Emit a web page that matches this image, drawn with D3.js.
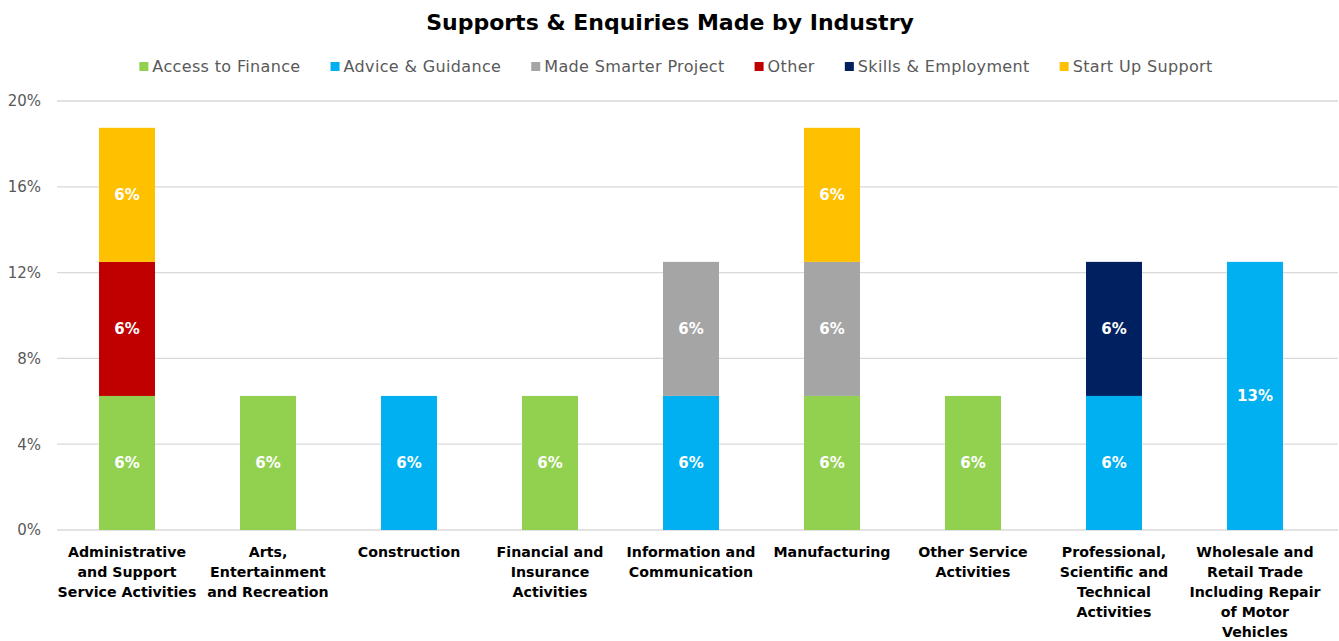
<!DOCTYPE html>
<html>
<head>
<meta charset="utf-8">
<script src="https://d3js.org/d3.v7.min.js"></script>
<style>
  body { margin: 0; background: #fff; }
  text { font-family: "Century Gothic", "DejaVu Sans", sans-serif; }
</style>
</head>
<body>
<div id="chart"></div>
<script>
// data
var categories = [
  "Administrative and Support Service Activities",
  "Arts, Entertainment and Recreation",
  "Construction",
  "Financial and Insurance Activities",
  "Information and Communication",
  "Manufacturing",
  "Other Service Activities",
  "Professional, Scientific and Technical Activities",
  "Wholesale and Retail Trade Including Repair of Motor Vehicles"
];
var tickLines = [
  ["Administrative", "and Support", "Service Activities"],
  ["Arts,", "Entertainment", "and Recreation"],
  ["Construction"],
  ["Financial and", "Insurance", "Activities"],
  ["Information and", "Communication"],
  ["Manufacturing"],
  ["Other Service", "Activities"],
  ["Professional,", "Scientific and", "Technical", "Activities"],
  ["Wholesale and", "Retail Trade", "Including Repair", "of Motor", "Vehicles"]
];
var seriesNames = ["Access to Finance", "Advice & Guidance", "Made Smarter Project", "Other", "Skills & Employment", "Start Up Support"];
var seriesColors = ["#92d050", "#00b0f0", "#a5a5a5", "#c00000", "#002060", "#ffc000"];
var accessToFinance  = [0.0625, 0.0625, 0,      0.0625, 0,      0.0625, 0.0625, 0,      0];
var adviceGuidance   = [0,      0,      0.0625, 0,      0.0625, 0,      0,      0.0625, 0.125];
var madeSmarter      = [0,      0,      0,      0,      0.0625, 0.0625, 0,      0,      0];
var other            = [0.0625, 0,      0,      0,      0,      0,      0,      0,      0];
var skillsEmployment = [0,      0,      0,      0,      0,      0,      0,      0.0625, 0];
var startUpSupport   = [0.0625, 0,      0,      0,      0,      0.0625, 0,      0,      0];
var yTicks = [0, 0.04, 0.08, 0.12, 0.16, 0.20];

var seriesValues = [accessToFinance, adviceGuidance, madeSmarter, other, skillsEmployment, startUpSupport];

var width = 1339, height = 641;
var margin = {top: 101, right: 1, bottom: 111, left: 57};
var w = width - margin.left - margin.right,
    h = height - margin.top - margin.bottom;

var svg = d3.select("#chart").append("svg")
  .attr("width", width).attr("height", height);

var rows = categories.map(function(c, i) {
  var r = {cat: c};
  seriesNames.forEach(function(s, j) { r[s] = seriesValues[j][i]; });
  return r;
});
var stacked = d3.stack().keys(seriesNames)(rows);

var x = d3.scaleBand().domain(categories).range([0, 1268]).paddingInner(0.603).paddingOuter(0.298);
var y = d3.scaleLinear().domain([0, 0.20]).range([h, 0]);
var color = d3.scaleOrdinal().domain(seriesNames).range(seriesColors);

var g = svg.append("g").attr("transform", "translate(" + margin.left + "," + margin.top + ")");

// grid
g.append("g").selectAll("line").data(yTicks).join("line")
  .attr("x1", 0).attr("x2", w)
  .attr("y1", function(d) { return y(d); }).attr("y2", function(d) { return y(d); })
  .attr("stroke", "#d9d9d9").attr("stroke-width", 1.3);

// y axis labels
var yAxis = g.append("g").call(d3.axisLeft(y).tickValues(yTicks).tickFormat(d3.format(".0%")).tickSize(0).tickPadding(16));
yAxis.select(".domain").remove();
yAxis.selectAll("text").attr("font-size", 15).attr("fill", "#595959")
  .style("font-family", "\"Century Gothic\", \"DejaVu Sans\", sans-serif");

// bars
var layers = g.append("g").selectAll("g").data(stacked).join("g")
  .attr("fill", function(d) { return color(d.key); });
layers.selectAll("rect").data(function(d) { return d; }).join("rect")
  .attr("x", function(d) { return x(d.data.cat); })
  .attr("width", x.bandwidth())
  .attr("y", function(d) { return y(d[1]); })
  .attr("height", function(d) { return y(d[0]) - y(d[1]); });

// value labels
layers.selectAll("text").data(function(d) { return d.filter(function(p) { return p[1] - p[0] > 0; }); }).join("text")
  .attr("x", function(d) { return x(d.data.cat) + x.bandwidth() / 2; })
  .attr("y", function(d) { return (y(d[0]) + y(d[1])) / 2; })
  .attr("dy", "0.35em")
  .attr("text-anchor", "middle")
  .attr("fill", "#fff").attr("font-weight", "bold").attr("font-size", 15)
  .text(function(d) { return d3.format(".0%")(d[1] - d[0]); });

// x labels
var xl = g.append("g").attr("transform", "translate(0," + h + ")");
categories.forEach(function(c, i) {
  var t = xl.append("text")
    .attr("x", x(c) + x.bandwidth() / 2)
    .attr("y", 27)
    .attr("text-anchor", "middle")
    .attr("font-weight", "bold").attr("font-size", 14.2).attr("fill", "#000");
  tickLines[i].forEach(function(line, k) {
    t.append("tspan").attr("x", x(c) + x.bandwidth() / 2).attr("dy", k === 0 ? 0 : 20).text(line);
  });
});

// title
svg.append("text")
  .attr("x", 670).attr("y", 30)
  .attr("text-anchor", "middle")
  .attr("font-weight", "bold").attr("font-size", 22).attr("fill", "#000")
  .text("Supports & Enquiries Made by Industry");

// legend
var legend = svg.append("g");
var items = legend.selectAll("g").data(seriesNames).join("g");
items.append("rect").attr("width", 9).attr("height", 9).attr("y", -10)
  .attr("fill", function(d) { return color(d); });
items.append("text").attr("x", 13).attr("y", 0)
  .attr("font-size", 16).attr("letter-spacing", 0.35).attr("fill", "#595959")
  .text(function(d) { return d; });
var gap = 30, pos = 0, offs = [];
items.each(function() {
  offs.push(pos);
  pos += this.getBBox().width + gap;
});
var total = pos - gap;
var startX = 676 - total / 2;
items.attr("transform", function(d, i) { return "translate(" + (startX + offs[i]) + ",72)"; });
</script>
</body>
</html>
